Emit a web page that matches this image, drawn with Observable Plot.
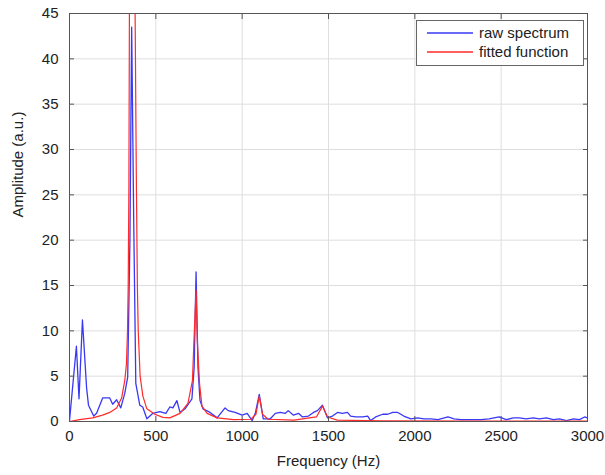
<!DOCTYPE html>
<html>
<head>
<meta charset="utf-8">
<script src="https://cdn.jsdelivr.net/npm/d3@7"></script>
<script src="https://cdn.jsdelivr.net/npm/@observablehq/plot@0.6"></script>
<style>
  body { margin: 0; background: #fff; }
  #wrap { position: relative; width: 605px; height: 475px; font-family: "Liberation Sans", Arial, sans-serif; }
  #legend { position: absolute; left: 416px; top: 20px; }
</style>
</head>
<body>
<div id="wrap"><div id="chart"></div><div id="legend"></div></div>
<script>
// ---- data ----
const xTicks = [0, 500, 1000, 1500, 2000, 2500, 3000];
const yTicks = [0, 5, 10, 15, 20, 25, 30, 35, 40, 45];
const seriesNames = ["raw spectrum", "fitted function"];

// raw spectrum: [frequency (Hz), amplitude (a.u.)]
const rawSpectrum = [
  [0, 0.1], [40, 8.3], [55, 2.5], [75, 11.2], [99, 3.7], [110, 1.8], [140, 0.6], [157, 0.9],
  [192, 2.6], [215, 2.6], [233, 2.6], [250, 1.9], [273, 2.4], [297, 1.5], [320, 3.1], [337, 4.9],
  [350, 20], [360, 43.5], [372, 22], [384, 4.2], [407, 1.8], [424, 1.6], [448, 0.3], [483, 0.9],
  [523, 1.1], [558, 0.9], [581, 1.6], [599, 1.5], [622, 2.3], [640, 1.0], [669, 1.4], [709, 2.5],
  [722, 6], [733, 16.5], [744, 6], [756, 2.3], [773, 1.4], [814, 1.0], [855, 0.4], [901, 1.5],
  [919, 1.2], [959, 1.0], [1000, 0.7], [1029, 0.9], [1058, 0.1], [1076, 0.9], [1099, 3.0], [1122, 0.3],
  [1163, 0.3], [1192, 0.9], [1221, 1.0], [1250, 0.9], [1267, 1.2], [1297, 0.7], [1326, 0.9], [1349, 0.5],
  [1384, 0.6], [1413, 1.0], [1436, 1.2], [1465, 1.8], [1494, 0.4], [1523, 0.6], [1552, 1.0], [1581, 0.9],
  [1610, 1.0], [1628, 0.6], [1657, 0.5], [1698, 0.5], [1727, 0.6], [1744, 0.1], [1773, 0.5], [1814, 0.8],
  [1843, 0.8], [1872, 1.0], [1901, 1.0], [1936, 0.6], [1977, 0.3], [2017, 0.4], [2052, 0.3], [2093, 0.3],
  [2134, 0.2], [2192, 0.5], [2227, 0.3], [2267, 0.2], [2326, 0.2], [2384, 0.2], [2430, 0.3], [2488, 0.5],
  [2529, 0.2], [2570, 0.4], [2605, 0.4], [2645, 0.3], [2686, 0.4], [2721, 0.3], [2762, 0.4], [2802, 0.2],
  [2837, 0.3], [2878, 0.1], [2919, 0.3], [2953, 0.2], [2983, 0.5], [3000, 0.4]
];

// fitted function: [frequency (Hz), amplitude (a.u.)] (main peak exceeds the axis top)
const fittedFunction = [
  [0, 0], [58, 0.2], [134, 0.4], [192, 0.7], [233, 1.0], [273, 1.5], [302, 2.6], [320, 4.5],
  [330, 6.4], [336, 10], [340, 15], [344, 26], [347, 45], [363, 62], [380, 45], [387, 27],
  [393, 15], [398, 10], [409, 5], [425, 2.8], [448, 1.4], [494, 0.8], [541, 0.45], [581, 0.4],
  [640, 0.9], [686, 2.0], [712, 4.5], [721, 9], [733, 14.5], [740, 9], [753, 4.2], [767, 1.7],
  [797, 0.9], [855, 0.4], [950, 0.2], [1050, 0.25], [1080, 0.8], [1099, 2.8], [1118, 0.8], [1150, 0.25],
  [1300, 0.15], [1430, 0.5], [1465, 1.7], [1495, 0.5], [1550, 0.15], [1800, 0.08], [2400, 0.05], [3000, 0.04]
];

const colors = ["#3838f5", "#ff2a2a"];
const font = "Liberation Sans, Arial, Helvetica, sans-serif";

const raw = rawSpectrum.map(([f, a]) => ({f, a}));
const fit = fittedFunction.map(([f, a]) => ({f, a}));

const chart = Plot.plot({
  width: 605,
  height: 475,
  marginLeft: 69,
  marginRight: 18,
  marginTop: 13,
  marginBottom: 54,
  style: {fontFamily: font, fontSize: "15px", background: "white", color: "#222", overflow: "visible"},
  x: {domain: [0, 3000]},
  y: {domain: [0, 45]},
  marks: [
    Plot.gridX(xTicks, {stroke: "#dedede", strokeOpacity: 1}),
    Plot.gridY(yTicks, {stroke: "#dedede", strokeOpacity: 1}),
    Plot.line(raw, {x: "f", y: "a", stroke: colors[0], strokeWidth: 1.3, clip: true}),
    Plot.line(fit, {x: "f", y: "a", stroke: colors[1], strokeWidth: 1.2, clip: true}),
    Plot.frame({stroke: "#555"}),
    // inward ticks on all four sides
    Plot.axisX(xTicks, {anchor: "bottom", tickSize: -5, fill: "none", stroke: "#555", label: null}),
    Plot.axisX(xTicks, {anchor: "top", tickSize: -5, fill: "none", stroke: "#555", label: null}),
    Plot.axisY(yTicks, {anchor: "left", tickSize: -5, fill: "none", stroke: "#555", label: null}),
    Plot.axisY(yTicks, {anchor: "right", tickSize: -5, fill: "none", stroke: "#555", label: null}),
    // tick labels
    Plot.axisX(xTicks, {anchor: "bottom", tickSize: 0, tickPadding: 9, label: null, fill: "#222", tickFormat: d => String(d)}),
    Plot.axisY(yTicks, {anchor: "left", tickSize: 0, tickPadding: 11, label: null, fill: "#222", tickFormat: d => String(d)}),
    // axis titles
    Plot.text(["Frequency (Hz)"], {frameAnchor: "bottom", dy: 44, text: d => d, fontSize: 15, fill: "#222"}),
    Plot.text(["Amplitude (a.u.)"], {frameAnchor: "left", dx: -51, rotate: -90, text: d => d, fontSize: 15, fill: "#222"})
  ]
});
document.getElementById("chart").appendChild(chart);

// legend (inside the axes, top right)
const lg = d3.select("#legend").append("svg").attr("width", 168).attr("height", 47);
lg.append("rect").attr("x", 0.5).attr("y", 0.5).attr("width", 167).attr("height", 45)
  .attr("fill", "white").attr("stroke", "#666");
seriesNames.forEach((name, i) => {
  const yy = 13 + i * 19;
  lg.append("line").attr("x1", 11).attr("x2", 57).attr("y1", yy).attr("y2", yy)
    .attr("stroke", colors[i]).attr("stroke-width", 1.5);
  lg.append("text").attr("x", 63).attr("y", yy).attr("dy", "0.35em")
    .attr("font-family", font).attr("font-size", 15).attr("fill", "#222").text(name);
});
</script>
</body>
</html>
